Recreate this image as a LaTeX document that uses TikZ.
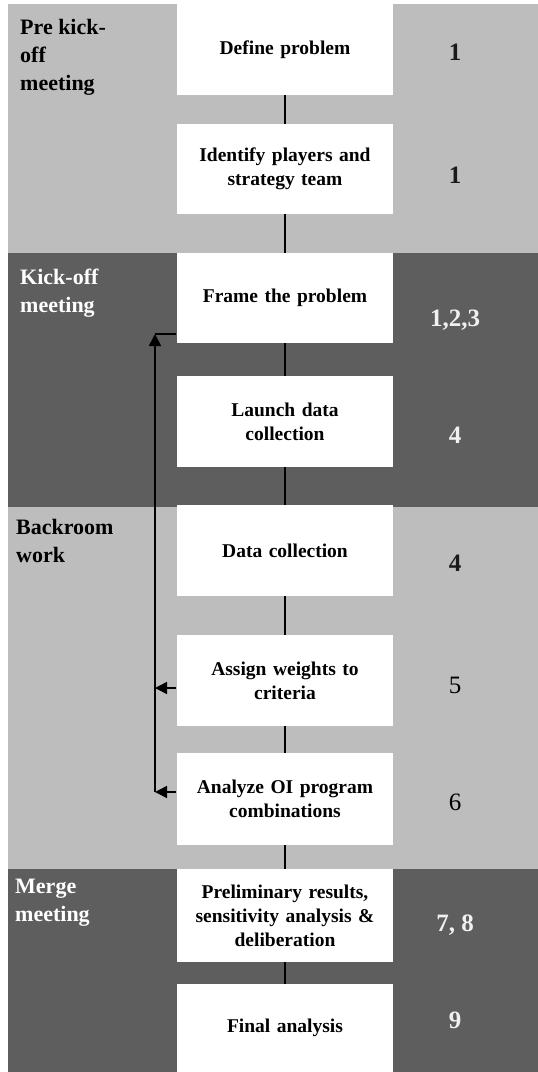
\documentclass[tikz,border=0pt]{standalone}
\usepackage{fontspec}
\setmainfont{Liberation Serif}
\usetikzlibrary{arrows.meta}
\definecolor{lightband}{HTML}{BDBDBD}
\definecolor{darkband}{HTML}{5E5E5E}
\definecolor{numlight}{HTML}{F0F0F0}
\definecolor{numdark}{HTML}{1A1A1A}
\tikzset{
  stepbox/.style={fill=white, draw=none, minimum width=216pt, inner sep=2pt,
    align=center, text width=212pt,
    font=\fontsize{19.5}{24}\selectfont\bfseries},
  bandlabel/.style={anchor=base west, align=left, inner sep=0pt,
    font=\fontsize{22}{28}\selectfont\bfseries},
  numlabel/.style={font=\fontsize{25}{28}\selectfont\bfseries},
  numplain/.style={font=\fontsize{25}{28}\selectfont, text=black},
  conn/.style={line width=1.4pt, black},
  fb/.style={line width=1.6pt, black},
  fbtip/.style={-{Triangle[length=12pt,width=12pt]}}
}
\begin{document}
\begin{tikzpicture}[x=1pt,y=-1pt]
\useasboundingbox (0,0) rectangle (538,1072);
\fill[white] (0,0) rectangle (538,1072);
% bands
\fill[lightband] (8,4) rectangle (538,253);
\fill[darkband] (8,253) rectangle (538,507);
\fill[lightband] (8,507) rectangle (538,869);
\fill[darkband] (8,869) rectangle (538,1072);
% band labels (anchored at the baseline of their last line)
\node[bandlabel] (l1) at (20,90) {Pre kick-\\off\\meeting};
\node[bandlabel, text=white] (l2) at (20,312) {Kick-off\\meeting};
\node[bandlabel] (l3) at (16,562) {Backroom\\work};
\node[bandlabel, text=white] (l4) at (15,921) {Merge\\meeting};
% boxes
\node[stepbox, minimum height=91pt] (b1) at (285,49.5) {Define problem};
\node[stepbox, minimum height=90pt] (b2) at (285,169) {Identify players and\\strategy team};
\node[stepbox, minimum height=90pt] (b3) at (285,298) {Frame the problem};
\node[stepbox, minimum height=91pt] (b4) at (285,421.5) {Launch data\\collection};
\node[stepbox, minimum height=91pt] (b5) at (285,550.5) {Data collection};
\node[stepbox, minimum height=91pt] (b6) at (285,680.5) {Assign weights to\\criteria};
\node[stepbox, minimum height=92pt] (b7) at (285,799) {Analyze OI program\\combinations};
\node[stepbox, minimum height=93pt] (b8) at (285,915.5) {Preliminary results,\\sensitivity analysis \&\\deliberation};
\node[stepbox, minimum height=88pt] (b9) at (285,1028) {Final analysis};
% connectors
\draw[conn] (b1.south) -- (b2.north);
\draw[conn] (b2.south) -- (b3.north);
\draw[conn] (b3.south) -- (b4.north);
\draw[conn] (b4.south) -- (b5.north);
\draw[conn] (b5.south) -- (b6.north);
\draw[conn] (b6.south) -- (b7.north);
\draw[conn] (b7.south) -- (b8.north);
\draw[conn] (b8.south) -- (b9.north);
% numbers
\node[numlabel, text=numdark] (n1) at (455,52) {1};
\node[numlabel, text=numdark] (n2) at (455,175) {1};
\node[numlabel, text=numlight] (n3) at (455,320) {1,2,3};
\node[numlabel, text=numlight] (n4) at (455,435) {4};
\node[numlabel, text=numdark] (n5) at (455,563) {4};
\node[numplain] (n6) at (455,685) {5};
\node[numplain] (n7) at (455,802) {6};
\node[numlabel, text=numlight] (n8) at (455,925) {7, 8};
\node[numlabel, text=numlight] (n9) at (455,1020) {9};
% feedback arrows
\coordinate (fbtop) at ([xshift=-1pt]b3.west |- 0,334);
\coordinate (ctop) at (155,334);
\coordinate (fbmid) at ([xshift=-1pt]b6.west |- 0,688);
\coordinate (cmid) at (155,688);
\coordinate (fbbot) at ([xshift=-1pt]b7.west |- 0,792);
\coordinate (cbot) at (155,792);
\draw[fb] (fbtop) -- (ctop);
\draw[fb, fbtip] (cbot) -- (ctop);
\draw[fb, fbtip] (fbmid) -- (cmid);
\draw[fb, fbtip] (fbbot) -- (cbot);
\end{tikzpicture}
\end{document}
